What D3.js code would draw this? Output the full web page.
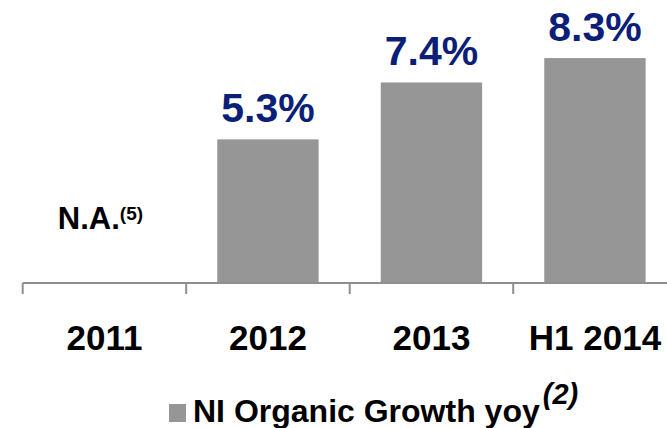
<!DOCTYPE html>
<html>
<head>
<meta charset="utf-8">
<script src="https://cdn.jsdelivr.net/npm/d3@7"></script>
<style>
  body { margin: 0; background: #fff; }
  text { font-family: "Liberation Sans", Arial, sans-serif; font-weight: bold; }
</style>
</head>
<body>
<div id="chart"></div>
<script>
// data
var categories = ["2011", "2012", "2013", "H1 2014"]
var growth = [null, 5.3, 7.4, 8.3]
var valueLabels = ["N.A.", "5.3%", "7.4%", "8.3%"]
var legendLabel = "NI Organic Growth yoy"
var legendNote = "(2)"
var naNote = "(5)"

var width = 667, height = 428;
var axisY = 283;

var svg = d3.select("#chart")
    .append("svg")
    .attr("width", width)
    .attr("height", height);

// band per category, tick marks sit on the band edges
var x = d3.scaleBand()
    .domain(categories)
    .range([22.7, 676.7])
    .paddingInner(0)
    .paddingOuter(0);

var xBar = d3.scaleBand()
    .domain(categories)
    .range([22.7, 676.7])
    .paddingInner(0.38)
    .paddingOuter(0.19);

var y = d3.scaleLinear()
    .domain([0, 10])
    .range([axisY, axisY - 271]);

var data = categories.map(function(c, i) {
  return {cat: c, value: growth[i], label: valueLabels[i]};
});

// bars
svg.append("g")
  .selectAll("rect")
  .data(data.filter(function(d) { return d.value != null; }))
  .enter().append("rect")
    .attr("x", function(d) { return xBar(d.cat); })
    .attr("y", function(d) { return y(d.value); })
    .attr("width", xBar.bandwidth())
    .attr("height", function(d) { return y(0) - y(d.value); })
    .style("fill", "#969696");

// value labels
svg.append("g")
  .selectAll("text")
  .data(data.filter(function(d) { return d.value != null; }))
  .enter().append("text")
    .attr("x", function(d) { return x(d.cat) + x.bandwidth() / 2; })
    .attr("y", function(d) { return y(d.value) - 17; })
    .attr("text-anchor", "middle")
    .style("font-size", "41px")
    .style("fill", "#0b1e78")
    .text(function(d) { return d.label; });

// N.A. for the missing year
var na = data.filter(function(d) { return d.value == null; });
na.forEach(function(d) {
  var t = svg.append("text")
    .attr("x", x(d.cat) + x.bandwidth() / 2 - 4)
    .attr("y", 229)
    .attr("text-anchor", "middle")
    .style("fill", "#000");
  t.append("tspan")
    .style("font-size", "31px")
    .text(d.label);
  t.append("tspan")
    .attr("dy", -9)
    .style("font-size", "19px")
    .text(naNote);
});

// axis line and ticks
var axis = svg.append("g").attr("class", "axis");
axis.append("line")
    .attr("x1", x.range()[0])
    .attr("x2", x.range()[1])
    .attr("y1", axisY)
    .attr("y2", axisY)
    .style("stroke", "#8f8f8f")
    .style("stroke-width", 2);

var tickPos = categories.map(function(c) { return x(c); }).concat([x.range()[1]]);
axis.selectAll(".tick")
  .data(tickPos)
  .enter().append("line")
    .attr("class", "tick")
    .attr("x1", function(d) { return d; })
    .attr("x2", function(d) { return d; })
    .attr("y1", axisY)
    .attr("y2", axisY + 11)
    .style("stroke", "#8f8f8f")
    .style("stroke-width", 2);

axis.selectAll(".cat")
  .data(categories)
  .enter().append("text")
    .attr("class", "cat")
    .attr("x", function(d) { return x(d) + x.bandwidth() / 2; })
    .attr("y", 350)
    .attr("text-anchor", "middle")
    .style("font-size", "35px")
    .style("fill", "#000")
    .text(function(d) { return d; });

// legend
var legend = svg.append("g").attr("transform", "translate(169, 0)");
legend.append("rect")
    .attr("x", 0)
    .attr("y", 404)
    .attr("width", 17)
    .attr("height", 18)
    .style("fill", "#969696");

var lt = legend.append("text")
    .attr("x", 24)
    .attr("y", 422)
    .style("fill", "#000");
lt.append("tspan")
    .style("font-size", "32px")
    .text(legendLabel);
lt.append("tspan")
    .attr("dx", 3)
    .attr("dy", -18)
    .style("font-size", "29px")
    .style("font-style", "italic")
    .text(legendNote);
</script>
</body>
</html>
